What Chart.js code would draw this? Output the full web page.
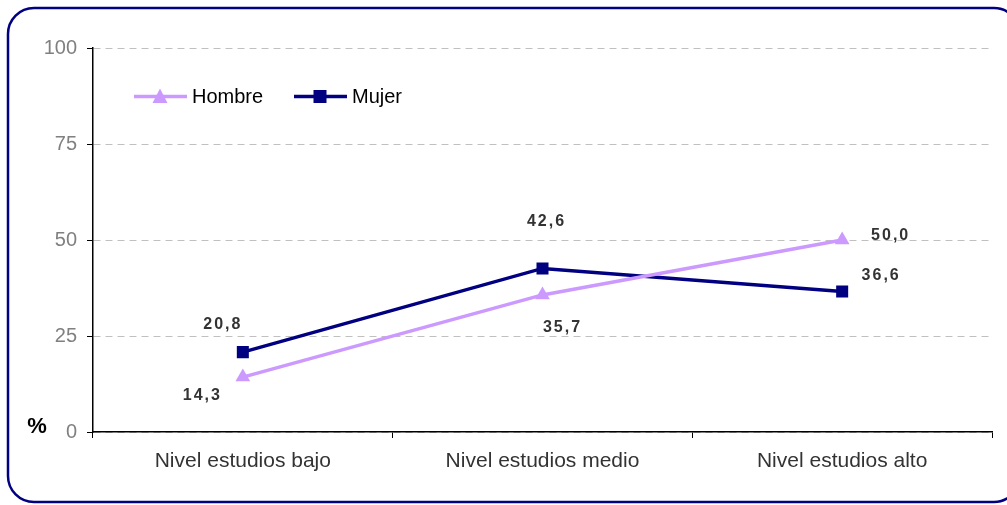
<!DOCTYPE html>
<html>
<head>
<meta charset="utf-8">
<script src="https://cdn.jsdelivr.net/npm/chart.js@4"></script>
<style>
  html, body { margin: 0; padding: 0; background: #fff; }
  #wrap { position: relative; width: 1007px; height: 505px; }
</style>
</head>
<body>
<div id="wrap"><canvas id="chart"></canvas></div>
<script>
// Datos
const categories = ['Nivel estudios bajo', 'Nivel estudios medio', 'Nivel estudios alto'];
const hombre = [14.3, 35.7, 50.0];
const mujer = [20.8, 42.6, 36.6];
const yTicks = [0, 25, 50, 75, 100];

const colors = {
    hombre: '#cc99ff',
    mujer: '#000080',
    grid: '#c0c0c0',
    tick: '#808080',
    label: '#333333'
};

const FONT = '"Liberation Sans", Arial, sans-serif';

// label offsets relative to the point (dx, dy), [hombre, mujer]
const labelOffsets = {
    0: [[-41.5, 19], [-21, -27.5]],
    1: [[19, 33], [3, -47]],
    2: [[47.5, -4], [38, -15.5]]
};

const fmt = v => v.toFixed(1).replace('.', ',');

// border, legend, "%" and the value labels
const decorations = {
    id: 'decorations',
    beforeDraw(chart) {
        const ctx = chart.ctx;
        ctx.save();
        ctx.fillStyle = '#fff';
        ctx.fillRect(0, 0, chart.width, chart.height);
        ctx.restore();
    },
    afterDraw(chart) {
        const ctx = chart.ctx;
        ctx.save();

        // frame
        ctx.strokeStyle = colors.mujer;
        ctx.lineWidth = 2.5;
        ctx.beginPath();
        ctx.roundRect(8, 8, 1012, 494, 26);
        ctx.stroke();

        // % label
        ctx.fillStyle = '#000';
        ctx.font = 'bold 22px ' + FONT;
        ctx.textAlign = 'center';
        ctx.textBaseline = 'middle';
        ctx.fillText('%', 37, 427);

        // legend
        const items = [
            { text: 'Hombre', color: colors.hombre, x: 134, style: 'triangle' },
            { text: 'Mujer', color: colors.mujer, x: 294, style: 'rect' }
        ];
        const ly = 96.5;
        items.forEach(it => {
            ctx.strokeStyle = it.color;
            ctx.lineWidth = 3.5;
            ctx.beginPath();
            ctx.moveTo(it.x, ly);
            ctx.lineTo(it.x + 53, ly);
            ctx.stroke();
            ctx.fillStyle = it.color;
            const cx = it.x + 26;
            if (it.style === 'triangle') {
                ctx.beginPath();
                ctx.moveTo(cx, ly - 8);
                ctx.lineTo(cx + 7.5, ly + 6.5);
                ctx.lineTo(cx - 7.5, ly + 6.5);
                ctx.closePath();
                ctx.fill();
            } else {
                ctx.fillRect(cx - 6.5, ly - 6.5, 13, 13);
            }
            ctx.fillStyle = '#000';
            ctx.font = '20px ' + FONT;
            ctx.textAlign = 'left';
            ctx.fillText(it.text, it.x + 58, ly + 1);
        });

        // value labels
        ctx.font = 'bold 16px ' + FONT;
        ctx.fillStyle = colors.label;
        ctx.textAlign = 'center';
        ctx.letterSpacing = '2px';
        chart.data.datasets.forEach((ds, di) => {
            const meta = chart.getDatasetMeta(di);
            meta.data.forEach((pt, i) => {
                const off = labelOffsets[i][di];
                ctx.fillText(fmt(ds.data[i]), pt.x + off[0] + 1, pt.y + off[1]);
            });
        });
        ctx.restore();
    }
};

const ctx = document.getElementById('chart').getContext('2d');
new Chart(ctx, {
    type: 'line',
    data: {
        labels: categories,
        datasets: [{
            label: 'Hombre',
            data: hombre,
            borderColor: colors.hombre,
            backgroundColor: colors.hombre,
            borderWidth: 3.5,
            pointStyle: 'triangle',
            pointRadius: 8.5,
            pointBorderWidth: 0,
            tension: 0
        }, {
            label: 'Mujer',
            data: mujer,
            borderColor: colors.mujer,
            backgroundColor: colors.mujer,
            borderWidth: 3.5,
            pointStyle: 'rect',
            pointRadius: 8.5,
            pointBorderWidth: 0,
            tension: 0
        }]
    },
    options: {
        responsive: true,
        maintainAspectRatio: false,
        animation: false,
        layout: { padding: { top: 48, right: 15, left: 0, bottom: 0 } },
        plugins: {
            legend: { display: false },
            tooltip: { enabled: false }
        },
        scales: {
            x: {
                offset: true,
                grid: {
                    offset: true,
                    drawOnChartArea: false,
                    drawTicks: true,
                    tickLength: 6,
                    tickColor: '#000'
                },
                border: { color: '#000', width: 1.5 },
                ticks: {
                    color: colors.label,
                    font: { family: FONT, size: 21 },
                    padding: 11,
                    maxRotation: 0
                },
                afterFit(scale) { scale.height = 73; }
            },
            y: {
                min: 0,
                max: 100,
                afterBuildTicks(scale) { scale.ticks = yTicks.map(v => ({ value: v })); },
                grid: {
                    color: colors.grid,
                    tickColor: '#000',
                    tickLength: 6,
                    tickBorderDash: [],
                    drawTicks: true
                },
                border: { color: '#000', width: 1.5, dash: [7, 5] },
                ticks: {
                    color: colors.tick,
                    font: { family: FONT, size: 20 },
                    padding: 10
                },
                afterFit(scale) { scale.width = 93; }
            }
        }
    },
    plugins: [decorations]
});
</script>
</body>
</html>
